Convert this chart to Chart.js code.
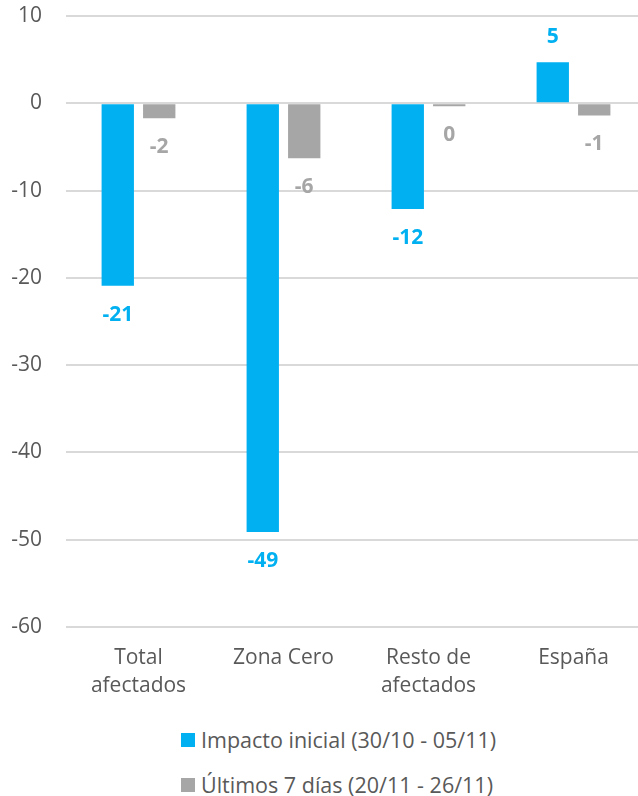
<!DOCTYPE html>
<html>
<head>
<meta charset="utf-8">
<script src="https://cdn.jsdelivr.net/npm/chart.js@4/dist/chart.umd.min.js"></script>
<style>
  html, body { margin: 0; padding: 0; background: #ffffff; overflow: hidden; width: 638px; height: 796px; }
  #wrap { position: absolute; left: 0; top: 0; width: 646px; height: 717px; }
  #legend { position: absolute; left: 181px; top: 717px; font-family: "Open Sans", sans-serif; font-size: 21.5px; color: #595959; }
  .row { height: 45px; white-space: nowrap; display: flex; align-items: center; }
  .box { width: 14px; height: 14px; display: inline-block; margin-right: 6px; }
</style>
</head>
<body>
<div id="wrap"><canvas id="c" width="646" height="717"></canvas></div>
<div id="legend"></div>
<script>
const categories = [["Total", "afectados"], "Zona Cero", ["Resto de", "afectados"], "España"];
const seriesNames = ["Impacto inicial (30/10 - 05/11)", "Últimos 7 días (20/11 - 26/11)"];
const impactoInicial = [-20.9, -49.1, -12.1, 4.7];
const ultimos7dias = [-1.7, -6.3, -0.35, -1.4];
const yTicks = [10, 0, -10, -20, -30, -40, -50, -60];

const BLUE = "#00B0F0";
const GRAY = "#A6A6A6";
const FONT = "'Open Sans', sans-serif";

const valueLabels = {
  id: "valueLabels",
  afterDatasetsDraw(chart) {
    const ctx = chart.ctx;
    ctx.save();
    ctx.font = "bold 21px " + FONT;
    ctx.textAlign = "center";
    ctx.textBaseline = "middle";
    chart.data.datasets.forEach((ds, i) => {
      const meta = chart.getDatasetMeta(i);
      ctx.fillStyle = ds.backgroundColor;
      meta.data.forEach((el, j) => {
        const v = ds.data[j];
        const txt = String(Math.round(v) + 0);
        const y = v < 0 ? el.y + 29 : el.y - 25;
        ctx.fillText(txt, el.x, y);
      });
    });
    ctx.restore();
  }
};

const chart = new Chart(document.getElementById("c"), {
  type: "bar",
  data: {
    labels: categories,
    datasets: [
      { label: seriesNames[0], data: impactoInicial, backgroundColor: BLUE, categoryPercentage: 0.572, barPercentage: 0.78 },
      { label: seriesNames[1], data: ultimos7dias, backgroundColor: GRAY, categoryPercentage: 0.572, barPercentage: 0.78 }
    ]
  },
  options: {
    responsive: false,
    animation: false,
    devicePixelRatio: 1,
    layout: { padding: { top: 16, right: 0, bottom: 0, left: 0 } },
    plugins: { legend: { display: false }, tooltip: { enabled: false } },
    scales: {
      x: {
        grid: { display: false, drawTicks: false },
        border: { display: false },
        ticks: { color: "#595959", font: { family: FONT, size: 21, lineHeight: 1.38 }, padding: 16, maxRotation: 0, autoSkip: false }
      },
      y: {
        min: -60, max: 10,
        afterFit(scale) { scale.width = 66; scale.paddingTop = 0; scale.paddingBottom = 0; },
        afterBuildTicks(scale) { scale.ticks = yTicks.map(v => ({ value: v })); },
        grid: { color: "#D9D9D9", lineWidth: 2, drawTicks: false },
        border: { display: false },
        ticks: { color: "#595959", font: { family: FONT, size: 21 }, padding: 24, stepSize: 10 }
      }
    }
  },
  plugins: [valueLabels]
});

const legend = document.getElementById("legend");
chart.data.datasets.forEach(ds => {
  const row = document.createElement("div");
  row.className = "row";
  const box = document.createElement("span");
  box.className = "box";
  box.style.background = ds.backgroundColor;
  const t = document.createElement("span");
  t.textContent = ds.label;
  row.appendChild(box);
  row.appendChild(t);
  legend.appendChild(row);
});
</script>
</body>
</html>
